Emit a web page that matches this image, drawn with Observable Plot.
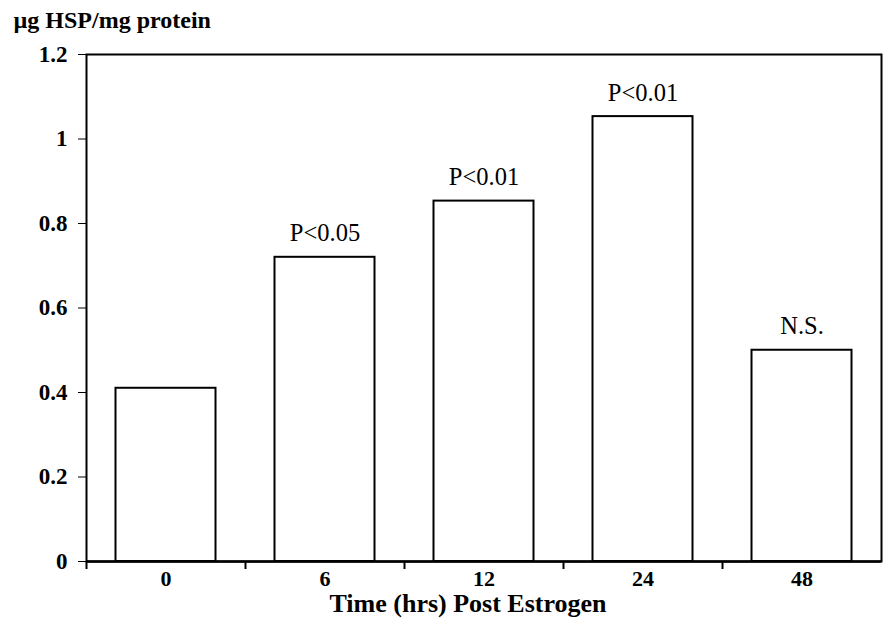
<!DOCTYPE html>
<html>
<head>
<meta charset="utf-8">
<script src="https://cdn.jsdelivr.net/npm/d3@7"></script>
<script src="https://cdn.jsdelivr.net/npm/@observablehq/plot@0.6"></script>
<style>
  body { margin: 0; background: white; }
</style>
</head>
<body>
<div id="chart"></div>
<script>
const categories = ["0", "6", "12", "24", "48"];
const values = [0.41, 0.72, 0.853, 1.053, 0.50];
const pLabels = ["", "P<0.05", "P<0.01", "P<0.01", "N.S."];
const yTicks = [0, 0.2, 0.4, 0.6, 0.8, 1, 1.2];
const xTitle = "Time (hrs) Post Estrogen";
const yTitle = "µg HSP/mg protein";

const data = categories.map((t, i) => ({t, v: values[i], p: pLabels[i]}));

const chart = Plot.plot({
  width: 887,
  height: 619,
  marginTop: 54,
  marginBottom: 58,
  marginLeft: 86,
  marginRight: 6,
  style: {fontFamily: "'Liberation Serif', 'Times New Roman', serif", background: "white", color: "black"},
  x: {domain: categories, padding: 0, label: null},
  y: {domain: [0, 1.2], label: null},
  marks: [
    Plot.barY(data, {x: "t", y: "v", fill: "white", stroke: "black", strokeWidth: 2, insetLeft: 29.5, insetRight: 29.5}),
    Plot.frame({stroke: "black", strokeWidth: 2}),
    Plot.ruleY([0], {stroke: "black", strokeWidth: 2.5}),
    Plot.ruleX(categories, {x: d => d, dx: -79.5, y1: 0, y2: 0, insetBottom: -8, stroke: "black", strokeWidth: 2}),
    Plot.axisY({ticks: yTicks, tickSize: 8, tickPadding: 11, tickFormat: d => String(d), fontSize: 23, fontWeight: "bold", label: null}),
    Plot.axisX({tickSize: 0, tickPadding: 9, fontSize: 22, fontWeight: "bold", label: null}),
    Plot.text(data, {x: "t", y: "v", text: "p", dy: -16, lineAnchor: "bottom", fontSize: 24.5}),
    Plot.text([xTitle], {frameAnchor: "bottom", lineAnchor: "middle", dx: -16, dy: 42, fontSize: 26, fontWeight: "bold"}),
    Plot.text([yTitle], {frameAnchor: "top-left", lineAnchor: "middle", textAnchor: "start", dx: -73, dy: -34, fontSize: 24, fontWeight: "bold"})
  ]
});
document.getElementById("chart").append(chart);
</script>
</body>
</html>
